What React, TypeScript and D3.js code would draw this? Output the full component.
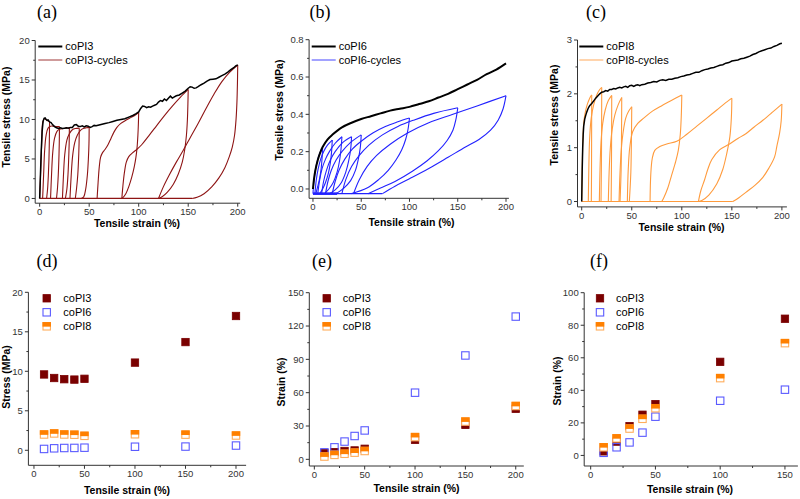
import React from "react";
import * as d3 from "d3";

type P = [number, number];

// ---------------- DATA ----------------
// (a) coPI3 monotonic tensile curve
const coPI3Envelope: P[] = [
  [0,0],[0.8,3],[1.6,6],[2.5,8.5],[3.5,9.8],[4.5,10.15],[5.5,10.2],[6.5,10.0],[7.5,9.9],[8.5,9.95],[10,9.7],[11.5,9.6],[13,9.35],[15,9.1],[17,8.95],[19,8.85],[21,8.95],[23,8.85],[25,8.9],[27,8.95],[29,8.9],[31,9.0],[33,9.0],[35,9.3],[37,9.35],[39,9.15],[41,9.1],[43,9.2],[45,9.05],[47,9.2],[49,9.15],[51,9.0],[53,9.1],[55,9.25],[57,9.2],[60,9.3],[63,9.4],[66,9.5],[70,9.6],[74,9.75],[78,9.9],[82,10.0],[86,10.1],[90,10.3],[94,10.5],[97,10.7],[100,10.95],[102,11.4],[104,11.7],[106,11.65],[108,11.5],[110,11.6],[112,11.55],[114,11.7],[116,11.8],[118,11.9],[120,12.2],[122,12.4],[124,12.3],[126,12.6],[128,12.4],[130,12.7],[132,12.95],[134,12.7],[136,12.85],[138,13.0],[141,13.1],[144,13.35],[147,13.6],[150,13.95],[152,14.15],[154,14.1],[156,13.95],[158,14.0],[160,14.15],[163,14.4],[166,14.6],[169,14.85],[172,15.05],[175,15.1],[178,15.15],[181,15.35],[184,15.55],[187,15.75],[190,16.0],[193,16.3],[196,16.55],[198,16.8],[200,16.9]
];
// (a) coPI3 cyclic curves (loading / unloading branches)
const coPI3Cycles: P[][] = [
  [[0,0],[1.2,4],[2.2,7.5],[3.2,9.7],[5,10.1],[7.5,9.9],[10,9.7]],
  [[10,9.7],[9.8,7.5],[9.4,5],[8.8,3],[8,1.2],[7,0]],
  [[3,0],[4,3],[5,6],[6.5,8],[8.5,8.9],[11,9.15],[14,9.15],[17,9.1],[20,9.1]],
  [[20,9.1],[19.8,7],[19.4,5],[18.8,3],[18,1.3],[17,0]],
  [[11,0],[12,3],[13.2,5.8],[15,7.6],[17.5,8.5],[20,8.75],[24,8.85],[27,8.9],[30,8.95]],
  [[30,8.95],[29.8,7],[29.3,5],[28.6,3],[27.5,1.2],[26,0]],
  [[23,0],[24,2.8],[25.3,5.5],[27.5,7.4],[30,8.2],[33,8.7],[36,8.85],[40,8.9]],
  [[40,8.9],[39.8,7],[39.3,5],[38.5,3],[37.2,1.2],[36,0]],
  [[30.6,0],[31.8,2.8],[33.3,5.4],[35.5,7.1],[38,8],[41,8.6],[44,8.85],[47,8.95],[50,9.0]],
  [[50,9.0],[49.8,7],[49.2,5],[48.2,3],[46.5,1.2],[44.5,0.2],[42,0]],
  [[58,0],[59,2],[60.2,4],[61.5,5.2],[63.5,5.8],[66,6.2],[69,6.8],[72,7.6],[75,8.4],[78,9.0],[82,9.5],[87,9.9],[93,10.3],[97,10.6],[100,10.9]],
  [[100,10.9],[99.7,9.5],[99.2,8],[98.4,6.5],[97.2,5.2],[95.5,4],[93,2.7],[90,1.5],[87,0.6],[84,0.1],[83,0]],
  [[83,0],[84,1.5],[85.5,3.2],[87.5,4.6],[90,5.3],[94,5.8],[98,6.2],[103,6.8],[110,7.9],[118,9.2],[126,10.5],[134,11.7],[142,12.8],[150,13.8]],
  [[150,13.8],[149.7,12],[149.2,10],[148.2,8],[146.5,6.2],[144,4.6],[140,3.1],[135,1.8],[129,0.8],[124,0.25],[120,0]],
  [[120,0],[125,1.5],[131,3],[138,4.6],[145,6.1],[152,7.7],[160,9.5],[168,11.4],[176,13.2],[184,14.8],[192,16.0],[200,16.9]],
  [[200,16.9],[199.7,14.5],[199.2,12.2],[198.3,10],[196.8,8],[194.5,6.5],[191.5,5.3],[187,3.9],[181,2.6],[174,1.5],[166,0.6],[159,0.15],[154,0]]
];
const coPI3Baseline: P[] = [[0,0],[154,0]];

// (b) coPI6
const coPI6Envelope: P[] = [
  [0,0],[1,0.05],[2.5,0.1],[5,0.155],[7.5,0.195],[10,0.225],[15,0.265],[20,0.29],[30,0.33],[40,0.355],[50,0.375],[60,0.39],[70,0.405],[80,0.42],[90,0.43],[100,0.44],[110,0.455],[120,0.47],[130,0.49],[140,0.51],[150,0.535],[160,0.56],[170,0.585],[180,0.615],[190,0.64],[200,0.673]
];
const coPI6Cycles: P[][] = [
  [[0,-0.025],[1,0.04],[2.5,0.1],[4.5,0.15],[7,0.19],[10,0.222]],
  [[10,0.222],[9.5,0.17],[8.5,0.11],[7,0.06],[5,0.015],[3,-0.025]],
  [[2,-0.025],[3.5,0.05],[5.5,0.11],[8,0.16],[11,0.2],[15,0.235],[20,0.262]],
  [[20,0.262],[19.3,0.2],[18,0.14],[16,0.085],[13,0.035],[10,0],[7,-0.025]],
  [[5,-0.025],[7,0.05],[9.5,0.11],[13,0.16],[17,0.2],[23,0.245],[30,0.28]],
  [[30,0.28],[29,0.21],[27.5,0.15],[25,0.09],[21,0.035],[16.5,0],[12,-0.025]],
  [[9,-0.025],[11,0.04],[14,0.1],[18,0.155],[23,0.2],[31,0.25],[40,0.28]],
  [[40,0.28],[39,0.21],[37,0.15],[34,0.09],[29.5,0.035],[23,-0.005],[17,-0.025]],
  [[13,-0.025],[15.5,0.04],[19,0.1],[24,0.155],[30,0.2],[39,0.25],[50,0.29]],
  [[50,0.29],[49,0.22],[47,0.16],[44,0.1],[39,0.045],[32,0.005],[24,-0.025]],
  [[20,-0.025],[23,0.04],[27,0.1],[33,0.16],[41,0.215],[51,0.26],[62,0.3],[75,0.335],[88,0.36],[100,0.38]],
  [[100,0.38],[98.5,0.32],[96,0.265],[92,0.21],[86,0.155],[78,0.1],[68,0.05],[56,0.005],[40,-0.025]],
  [[30,-0.025],[34,0.05],[40,0.12],[48,0.18],[58,0.235],[72,0.29],[88,0.335],[105,0.37],[125,0.405],[150,0.435]],
  [[150,0.435],[148,0.37],[145,0.315],[139,0.26],[130,0.205],[118,0.15],[103,0.095],[85,0.04],[70,0.005],[57,-0.025]],
  [[42,-0.025],[48,0.05],[56,0.12],[66,0.18],[80,0.24],[98,0.3],[120,0.355],[145,0.4],[170,0.445],[200,0.5]],
  [[200,0.5],[197,0.43],[192,0.37],[184,0.315],[172,0.265],[158,0.225],[140,0.17],[120,0.11],[100,0.055],[85,0.015],[72,-0.025]]
];
const coPI6Baseline: P[] = [[0,-0.025],[72,-0.025]];
const coPI6BaselineDense: P[] = [[0,-0.025],[25,-0.025]];

// (c) coPI8
const coPI8Envelope: P[] = [
  [0,0],[0.5,0.6],[1,1.0],[1.5,1.25],[2,1.4],[3,1.53],[4,1.6],[5,1.66],[6,1.71],[7,1.75],[8,1.78],[9,1.8],[10,1.82],[12,1.87],[14,1.92],[16,1.96],[18,2.0],[20,2.03],[22,2.04],[24,2.06],[26,2.05],[28,2.08],[30,2.08],[32,2.1],[34,2.09],[36,2.11],[38,2.12],[40,2.11],[42,2.13],[44,2.14],[46,2.12],[48,2.15],[50,2.16],[52,2.14],[54,2.16],[56,2.17],[58,2.15],[60,2.17],[63,2.18],[66,2.2],[69,2.21],[72,2.23],[75,2.22],[78,2.25],[81,2.26],[84,2.25],[87,2.27],[90,2.27],[93,2.29],[96,2.3],[99,2.32],[102,2.33],[105,2.35],[108,2.36],[111,2.38],[114,2.4],[117,2.4],[120,2.43],[123,2.45],[126,2.46],[129,2.48],[132,2.49],[135,2.51],[138,2.53],[141,2.54],[144,2.57],[147,2.58],[150,2.61],[153,2.62],[156,2.63],[159,2.65],[162,2.66],[165,2.68],[168,2.7],[171,2.73],[174,2.75],[177,2.78],[180,2.8],[183,2.82],[186,2.84],[189,2.85],[192,2.88],[195,2.9],[198,2.93],[200,2.94]
];
const coPI8Cycles: P[][] = [
  [[0,0],[0.6,0.7],[1.2,1.15],[2,1.45],[3.5,1.65],[5.5,1.8],[8,1.92],[10,1.98]],
  [[10,1.98],[9.9,1.2],[9.8,0.5],[9.6,0]],
  [[6.6,0],[7.2,0.7],[8,1.2],[9.5,1.55],[12,1.8],[15,1.98],[18,2.08],[20,2.12]],
  [[20,2.12],[19.9,1.4],[19.7,0.7],[19.3,0]],
  [[17.6,0],[18.3,0.6],[19.3,1.1],[21,1.45],[23.5,1.7],[26.5,1.87],[30,1.97]],
  [[30,1.97],[29.9,1.3],[29.7,0.6],[29.4,0]],
  [[26.6,0],[27.4,0.55],[28.6,1.0],[30.5,1.35],[33,1.6],[36.5,1.8],[40,1.93]],
  [[40,1.93],[39.8,1.3],[39.4,0.6],[38.3,0]],
  [[37.3,0],[38.2,0.5],[39.5,0.95],[41.5,1.3],[44,1.55],[47,1.68],[50,1.76]],
  [[50,1.76],[49.7,1.2],[49.1,0.55],[47.6,0]],
  [[45.6,0],[46.5,0.6],[48,1.0],[51,1.3],[56,1.45],[62,1.55],[70,1.67],[80,1.78],[90,1.88],[100,1.98]],
  [[100,1.98],[99.5,1.6],[98.5,1.25],[96.5,0.95],[94,0.75],[90,0.5],[86,0.25],[82,0.07],[80,0]],
  [[68.3,0],[69,0.5],[70.5,0.8],[73,0.95],[78,1.02],[85,1.07],[95,1.12],[105,1.25],[115,1.4],[125,1.55],[135,1.7],[145,1.85],[150,1.92]],
  [[150,1.92],[149.5,1.55],[148,1.2],[145,0.9],[141,0.6],[135,0.33],[127,0.12],[120,0.02],[116.6,0]],
  [[116.6,0],[119,0.2],[122.7,0.4],[126,0.6],[130,0.78],[137.7,0.96],[147.7,1.07],[156,1.17],[164,1.26],[172,1.38],[181,1.51],[190,1.65],[200,1.81]],
  [[200,1.81],[199.3,1.5],[197.7,1.27],[195,1.03],[192.7,0.83],[187,0.62],[181,0.45],[173,0.3],[164,0.17],[157,0.07],[151,0]]
];
const coPI8Baseline: P[] = [[0,0],[151,0]];

// (d)(e) strain levels
const strainLevels = [10, 20, 30, 40, 50, 100, 150, 200];
const stressCoPI3 = [9.6, 9.15, 9.0, 8.95, 9.05, 11.1, 13.7, 17.0];
const stressCoPI6 = [0.17, 0.25, 0.29, 0.3, 0.33, 0.45, 0.47, 0.6];
const stressCoPI8 = [2.0, 2.13, 2.0, 1.97, 1.83, 2.03, 1.98, 1.87];

const strainECoPI3 = [5.5, 6.5, 7.5, 8, 9.5, 17.5, 31, 45.5];
const strainECoPI6 = [6.3, 10.8, 16, 21, 26, 60, 93.5, 128.5];
const strainECoPI8 = [2.5, 4, 5, 6, 7.5, 20, 34, 48];

// (f)
const strainLevelsF = [10, 20, 30, 40, 50, 100, 150];
const strainFCoPI3 = [2.5, 8.5, 18, 25, 31.5, 57.5, 84];
const strainFCoPI6 = [1.6, 5, 8, 14, 23.8, 33.6, 40.4];
const strainFCoPI8 = [5, 10.5, 16.5, 22.5, 29, 47.5, 69];

const xTicksMain = [0, 50, 100, 150, 200];
const xMinorMain = [25, 75, 125, 175];
const xTicksF = [0, 50, 100, 150];
const xMinorF = [25, 75, 125];

// ---------------- STYLE ----------------
const SANS = "'Liberation Sans', Arial, Helvetica, sans-serif";
const SERIF = "'Liberation Serif', 'Times New Roman', serif";
const AXIS = "#333";
const C3 = "#8e1414";
const C3M = "#7a0000";
const C6 = "#2222ff";
const C6M = "#5a5aff";
const C8 = "#ff9b3d";
const C8M = "#ff8000";
const C8S = "#ffad5c";

type Sc = d3.ScaleLinear<number, number>;

function Axes(props: {
  x: Sc; y: Sc; xTicks: number[]; xMinor: number[]; yTicks: number[]; yMinor: number[];
  yFmt: (v: number) => string;
}) {
  const { x, y, xTicks, xMinor, yTicks, yMinor, yFmt } = props;
  const [xl, xr] = x.range();
  const yb = y.range()[0];
  const yTop = y(yTicks[yTicks.length - 1]);
  return (
    <g fontFamily={SANS} fontSize={9.5} fill="#333">
      <line x1={xl} x2={xr} y1={yb} y2={yb} stroke={AXIS} strokeWidth={1} />
      <line x1={xl} x2={xl} y1={yb} y2={yTop} stroke={AXIS} strokeWidth={1} />
      {xTicks.map((t) => (
        <g key={"xt" + t}>
          <line x1={x(t)} x2={x(t)} y1={yb} y2={yb + 3.5} stroke={AXIS} />
          <text x={x(t)} y={yb + 11.8} textAnchor="middle">{t}</text>
        </g>
      ))}
      {xMinor.map((t) => (
        <line key={"xm" + t} x1={x(t)} x2={x(t)} y1={yb} y2={yb + 2} stroke={AXIS} />
      ))}
      {yTicks.map((t) => (
        <g key={"yt" + t}>
          <line x1={xl - 3.5} x2={xl} y1={y(t)} y2={y(t)} stroke={AXIS} />
          <text x={xl - 5.5} y={y(t) + 3.4} textAnchor="end">{yFmt(t)}</text>
        </g>
      ))}
      {yMinor.map((t) => (
        <line key={"ym" + t} x1={xl - 2} x2={xl} y1={y(t)} y2={y(t)} stroke={AXIS} />
      ))}
    </g>
  );
}

function Titles(props: {
  title: string; tx: number; ty: number;
  xLabel: string; xlx: number; xly: number;
  yLabel: string; ylx: number; yly: number;
}) {
  const p = props;
  return (
    <g>
      <text x={p.tx} y={p.ty} textAnchor="middle" fontFamily={SERIF} fontSize={18} fill="#000">{p.title}</text>
      <text x={p.xlx} y={p.xly} textAnchor="middle" fontFamily={SANS} fontSize={10.5} fontWeight="bold" fill="#000">{p.xLabel}</text>
      <text transform={`translate(${p.ylx},${p.yly}) rotate(-90)`} textAnchor="middle" fontFamily={SANS} fontSize={10.5} fontWeight="bold" fill="#000">{p.yLabel}</text>
    </g>
  );
}

function Marker({ cx, cy, kind }: { cx: number; cy: number; kind: string }) {
  const s = 7.4, h = s / 2;
  if (kind === "filled") return <rect x={cx - h} y={cy - h} width={s} height={s} fill={C3M} stroke={C3M} strokeWidth={0.8} />;
  if (kind === "open") return <rect x={cx - h} y={cy - h} width={s} height={s} fill="none" stroke={C6M} strokeWidth={1.1} />;
  return (
    <g>
      <rect x={cx - h} y={cy - h} width={s} height={s} fill="#fff" stroke={C8S} strokeWidth={1.1} />
      <rect x={cx - h - 0.55} y={cy - h - 0.55} width={s + 1.1} height={h + 0.9} fill={C8M} />
    </g>
  );
}

function lineGen(x: Sc, y: Sc, curve: d3.CurveFactory) {
  return d3.line<P>().x((d) => x(d[0])).y((d) => y(d[1])).curve(curve);
}

function CurvePanel(props: {
  xDomain: [number, number]; xRange: [number, number]; yDomain: [number, number]; yRange: [number, number];
  yTicks: number[]; yMinor: number[]; yFmt: (v: number) => string;
  envelope: P[]; cycles: P[][]; baseline: P[]; extraBase?: P[]; color: string; envWidth: number; envCurve: d3.CurveFactory;
  names: [string, string]; legX: number;
  titles: any;
}) {
  const p = props;
  const x = d3.scaleLinear().domain(p.xDomain).range(p.xRange);
  const y = d3.scaleLinear().domain(p.yDomain).range(p.yRange);
  const smooth = lineGen(x, y, d3.curveCatmullRom.alpha(0.5));
  const env = lineGen(x, y, p.envCurve);
  const lin = lineGen(x, y, d3.curveLinear);
  return (
    <g>
      <Axes x={x} y={y} xTicks={xTicksMain} xMinor={xMinorMain} yTicks={p.yTicks} yMinor={p.yMinor} yFmt={p.yFmt} />
      <path d={lin(p.baseline) || ""} fill="none" stroke={p.color} strokeWidth={1.2} />
      {p.extraBase && <path d={lin(p.extraBase) || ""} fill="none" stroke={p.color} strokeWidth={2.6} />}
      {p.cycles.map((c, i) => (
        <path key={i} d={smooth(c) || ""} fill="none" stroke={p.color} strokeWidth={1.1} />
      ))}
      <path d={env(p.envelope) || ""} fill="none" stroke="#000" strokeWidth={p.envWidth} />
      <g fontFamily={SANS} fontSize={11} fill="#000">
        <line x1={p.legX} x2={p.legX + 24} y1={46.5} y2={46.5} stroke="#000" strokeWidth={2} />
        <text x={p.legX + 27} y={50.3}>{p.names[0]}</text>
        <line x1={p.legX} x2={p.legX + 24} y1={60} y2={60} stroke={p.color} strokeWidth={1.2} opacity={0.7} />
        <text x={p.legX + 27} y={63.8}>{p.names[1]}</text>
      </g>
      <Titles {...p.titles} />
    </g>
  );
}

function ScatterPanel(props: {
  xDomain: [number, number]; xRange: [number, number]; yDomain: [number, number]; yRange: [number, number];
  xTicks: number[]; xMinor: number[]; yTicks: number[]; yMinor: number[];
  xs: number[]; s3: number[]; s6: number[]; s8: number[];
  legX: number; textX: number; titles: any;
}) {
  const p = props;
  const x = d3.scaleLinear().domain(p.xDomain).range(p.xRange);
  const y = d3.scaleLinear().domain(p.yDomain).range(p.yRange);
  const names = ["coPI3", "coPI6", "coPI8"];
  const kinds = ["filled", "open", "half"];
  return (
    <g>
      <Axes x={x} y={y} xTicks={p.xTicks} xMinor={p.xMinor} yTicks={p.yTicks} yMinor={p.yMinor} yFmt={(v) => String(v)} />
      {p.xs.map((v, i) => <Marker key={"a" + i} cx={x(v)} cy={y(p.s3[i])} kind="filled" />)}
      {p.xs.map((v, i) => <Marker key={"b" + i} cx={x(v)} cy={y(p.s6[i])} kind="open" />)}
      {p.xs.map((v, i) => <Marker key={"c" + i} cx={x(v)} cy={y(p.s8[i])} kind="half" />)}
      <g fontFamily={SANS} fontSize={11} fill="#000">
        {names.map((n, i) => (
          <g key={n}>
            <Marker cx={p.legX} cy={298.3 + i * 14} kind={kinds[i]} />
            <text x={p.textX} y={302.3 + i * 14}>{n}</text>
          </g>
        ))}
      </g>
      <Titles {...p.titles} />
    </g>
  );
}

export default function App() {
  const f1 = (v: number) => d3.format(".1f")(v);
  const fi = (v: number) => String(v);
  return (
    <svg width={800} height={499} style={{ position: "absolute", left: 0, top: 0, background: "#fff" }}>
      <rect width={800} height={499} fill="#fff" />
      <CurvePanel
        xDomain={[-4.5, 202.5]} xRange={[35.2, 240.2]} yDomain={[-0.6, 20]} yRange={[203.2, 40.5]}
        yTicks={[0, 5, 10, 15, 20]} yMinor={[2.5, 7.5, 12.5, 17.5]} yFmt={fi}
        envelope={coPI3Envelope} cycles={coPI3Cycles} baseline={coPI3Baseline} color={C3} envWidth={1.5}
        envCurve={d3.curveLinear} names={["coPI3", "coPI3-cycles"]} legX={38.3}
        titles={{ title: "(a)", tx: 47, ty: 18, xLabel: "Tensile strain (%)", xlx: 137, xly: 226.5, yLabel: "Tensile stress (MPa)", ylx: 10, yly: 117 }}
      />
      <CurvePanel
        xDomain={[-4, 203]} xRange={[309.1, 508.9]} yDomain={[-0.05, 0.8]} yRange={[198.3, 39.7]}
        yTicks={[0, 0.2, 0.4, 0.6, 0.8]} yMinor={[0.1, 0.3, 0.5, 0.7]} yFmt={f1}
        envelope={coPI6Envelope} cycles={coPI6Cycles} baseline={coPI6Baseline} extraBase={coPI6BaselineDense} color={C6} envWidth={2}
        envCurve={d3.curveCatmullRom.alpha(0.5)} names={["coPI6", "coPI6-cycles"]} legX={311.7}
        titles={{ title: "(b)", tx: 320, ty: 18, xLabel: "Tensile strain (%)", xlx: 411.5, xly: 225.5, yLabel: "Tensile stress (MPa)", ylx: 283, yly: 110 }}
      />
      <CurvePanel
        xDomain={[-4.2, 205]} xRange={[577.5, 786.9]} yDomain={[-0.1, 3]} yRange={[206.9, 40]}
        yTicks={[0, 1, 2, 3]} yMinor={[0.5, 1.5, 2.5]} yFmt={fi}
        envelope={coPI8Envelope} cycles={coPI8Cycles} baseline={coPI8Baseline} color={C8} envWidth={1.5}
        envCurve={d3.curveLinear} names={["coPI8", "coPI8-cycles"]} legX={579.3}
        titles={{ title: "(c)", tx: 596, ty: 18, xLabel: "Tensile strain (%)", xlx: 681.5, xly: 231, yLabel: "Tensile stress (MPa)", ylx: 557.5, yly: 115 }}
      />
      <ScatterPanel
        xDomain={[-5.5, 210]} xRange={[28.4, 246.1]} yDomain={[-1.9, 20]} yRange={[465.3, 292.3]}
        xTicks={xTicksMain} xMinor={xMinorMain} yTicks={[0, 5, 10, 15, 20]} yMinor={[2.5, 7.5, 12.5, 17.5]}
        xs={strainLevels} s3={stressCoPI3} s6={stressCoPI6} s8={stressCoPI8} legX={46.7} textX={63.3}
        titles={{ title: "(d)", tx: 47, ty: 267, xLabel: "Tensile strain (%)", xlx: 127, xly: 493.5, yLabel: "Stress (MPa)", ylx: 9.5, yly: 377 }}
      />
      <ScatterPanel
        xDomain={[-5, 208]} xRange={[309.3, 523.8]} yDomain={[-6, 150]} yRange={[466, 292.7]}
        xTicks={xTicksMain} xMinor={xMinorMain} yTicks={[0, 30, 60, 90, 120, 150]} yMinor={[15, 45, 75, 105, 135]}
        xs={strainLevels} s3={strainECoPI3} s6={strainECoPI6} s8={strainECoPI8} legX={326.7} textX={342.7}
        titles={{ title: "(e)", tx: 322, ty: 267, xLabel: "Tensile strain (%)", xlx: 416.5, xly: 492, yLabel: "Strain (%)", ylx: 285, yly: 382 }}
      />
      <ScatterPanel
        xDomain={[-5, 160]} xRange={[584.2, 797.9]} yDomain={[-6.5, 100]} yRange={[466, 292.7]}
        xTicks={xTicksF} xMinor={xMinorF} yTicks={[0, 20, 40, 60, 80, 100]} yMinor={[10, 30, 50, 70, 90]}
        xs={strainLevelsF} s3={strainFCoPI3} s6={strainFCoPI6} s8={strainFCoPI8} legX={600} textX={616}
        titles={{ title: "(f)", tx: 599, ty: 267, xLabel: "Tensile strain (%)", xlx: 690, xly: 492.5, yLabel: "Strain (%)", ylx: 561, yly: 381 }}
      />
    </svg>
  );
}
